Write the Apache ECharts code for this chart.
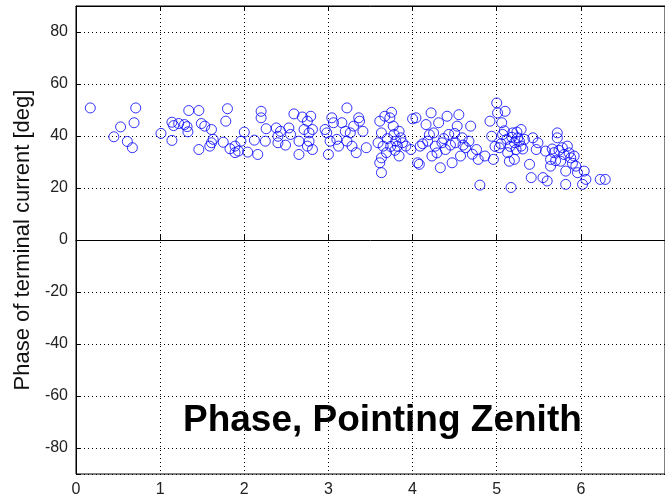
<!DOCTYPE html>
<html>
<head>
<meta charset="utf-8">
<script src="https://cdn.jsdelivr.net/npm/echarts@6/dist/echarts.min.js"></script>
<style>
  html, body { margin: 0; padding: 0; background: #fff; }
  #chart { width: 665px; height: 498px; }
</style>
</head>
<body>
<div id="chart"></div>
<script>
// pointing distance (x) and terminal-current phase in degrees (y)
const distance = [
  0.17, 0.45, 0.53, 0.61, 0.67, 0.69, 0.71, 1.01, 1.14, 1.14, 1.16, 1.22, 1.29, 1.34, 1.33, 1.32,
  1.46, 1.46, 1.49, 1.53, 1.61, 1.61, 1.59, 1.63, 1.75, 1.78, 1.80, 1.83, 1.89,
  2.00, 1.96, 1.89, 1.93, 2.04, 2.12, 2.16, 2.20, 2.20, 2.25, 2.26, 2.38, 2.40, 2.43, 2.40, 2.49,
  2.53, 2.55, 2.59, 2.65, 2.69, 2.65, 2.71, 2.75, 2.77, 2.79, 2.75, 2.81, 2.77, 2.81, 2.96, 2.98,
  3.00, 3.04, 3.06, 3.02, 3.10, 3.12, 3.16, 3.22, 3.20, 3.22, 3.26, 3.28, 3.30, 3.33, 3.37, 3.36,
  3.41, 3.45, 3.59, 3.61, 3.63, 3.65, 3.67, 3.63, 3.61, 3.63, 3.69, 3.73, 3.75, 3.77, 3.78, 3.84,
  3.80, 3.86, 3.82, 3.88, 3.92, 3.84, 3.98, 4.00, 4.06, 4.09,
  4.04, 4.08, 4.18, 4.22, 4.16, 4.25, 4.27, 4.23, 4.31, 4.33, 4.35, 4.39, 4.41, 4.43, 4.47, 4.51,
  4.53, 4.55, 4.57, 4.59, 4.63, 4.67, 4.69, 4.71, 4.76, 4.80, 4.78, 4.86, 4.92, 4.94, 4.96, 5.00,
  5.01, 5.03, 5.06, 5.07, 5.10, 5.12, 5.13, 5.17, 5.15, 5.19, 5.21, 5.25, 5.23, 5.29, 5.29, 5.33,
  5.21, 5.39, 5.43, 5.49, 5.47, 5.41, 5.55, 5.60, 5.58, 5.64, 5.64, 5.68, 5.72, 5.72, 5.76, 5.80,
  5.82, 5.82, 5.84, 5.88, 5.92, 5.94, 5.96, 6.04, 6.06, 6.02, 6.23, 6.29,
  4.37, 4.45, 4.29, 5.16, 5.24, 5.27, 5.31, 5.18, 5.74, 5.78, 5.70, 5.86, 5.90, 5.66, 3.70, 3.74,
  3.79, 4.20, 4.12, 4.50, 4.60, 5.05, 5.09, 4.98
];
const phaseDeg = [
  50.8, 39.7, 43.5, 37.9, 35.5, 45.1, 50.8, 41.0, 38.3, 45.3, 44.0, 44.8, 44.4, 49.8, 41.6, 43.6,
  49.8, 34.8, 44.8, 43.8, 42.5, 37.4, 36.1, 38.7, 37.6, 45.7, 50.5, 35.1, 33.6,
  41.5, 38.0, 36.1, 34.2, 33.8, 38.4, 32.9, 49.5, 47.0, 38.0, 42.8, 43.1, 39.9, 41.8, 37.4, 36.5,
  43.1, 40.6, 48.5, 32.9, 47.3, 38.0, 42.5, 45.7, 41.2, 47.6, 36.1, 34.8, 38.0, 42.5, 42.5, 41.2,
  32.9, 47.0, 45.1, 38.0, 38.7, 36.1, 45.1, 50.8, 41.8, 38.0, 41.2, 36.1, 43.8, 33.6, 45.7, 47.0,
  41.8, 35.5, 37.4, 45.7, 41.2, 36.1, 47.6, 31.6, 29.7, 25.9, 33.6, 47.0, 49.1, 43.8, 40.6, 41.8,
  38.0, 39.3, 36.1, 37.4, 36.1, 32.3, 34.8, 46.6, 29.7, 36.1,
  47.0, 29.1, 38.0, 48.9, 44.4, 41.2, 36.1, 32.3, 45.1, 27.8, 37.4, 34.8, 47.6, 40.6, 29.7, 37.4,
  43.8, 48.2, 32.3, 39.3, 35.5, 38.0, 43.8, 33.0, 34.8, 21.1, 31.0, 32.3, 45.7, 39.9, 31.0, 52.7,
  48.9, 35.5, 45.1, 40.6, 49.5, 38.7, 33.6, 20.2, 30.3, 41.2, 37.4, 39.3, 34.8, 42.5, 36.1, 38.7,
  31.0, 29.1, 39.3, 37.4, 34.8, 24.0, 24.0, 22.7, 34.2, 31.0, 28.4, 33.6, 41.2, 39.3, 30.3, 32.9,
  26.5, 21.4, 36.1, 31.6, 32.3, 28.4, 25.9, 26.5, 23.3, 21.4, 23.3, 23.3,
  39.0, 36.5, 33.5, 36.0, 41.5, 38.0, 35.0, 39.5, 34.5, 35.5, 30.5, 33.5, 29.5, 35.0, 39.0, 36.0,
  34.5, 40.5, 37.0, 41.0, 36.5, 37.0, 42.0, 36.0
];
const xTicks = [0, 1, 2, 3, 4, 5, 6, 7];
const yRange = [-90, 90];
const titleText = 'Phase, Pointing Zenith';
const yName = 'Phase of terminal current [deg]';

const points = distance.map((d, i) => [d, phaseDeg[i]]);

const chart = echarts.init(document.getElementById('chart'));

const dotted = { color: '#000', width: 1, type: [1, 3] };
const tickLabel = { color: '#222', fontSize: 16, fontFamily: 'Liberation Sans, Arial, sans-serif' };

chart.setOption({
  animation: false,
  title: {
    text: titleText,
    left: 183,
    top: 402,
    padding: 0,
    textStyle: { fontSize: 37, fontWeight: 'bold', color: '#000', fontFamily: 'Liberation Sans, Arial, sans-serif' }
  },
  grid: {
    left: 76, top: 6, right: -7, bottom: 22,
    show: true, borderColor: '#000', borderWidth: 1, backgroundColor: '#fff'
  },
  xAxis: [
    {
      type: 'value',
      min: xTicks[0],
      max: xTicks[xTicks.length - 1],
      interval: 1,
      axisLine: { show: true, lineStyle: { color: '#000' } },
      axisTick: { show: true, inside: true, length: 5, lineStyle: { color: '#000' } },
      axisLabel: Object.assign({ margin: 8, showMaxLabel: false }, tickLabel),
      splitLine: { show: true, lineStyle: dotted }
    },
    {
      type: 'value',
      position: 'top',
      min: xTicks[0],
      max: xTicks[xTicks.length - 1],
      interval: 1,
      axisLine: { show: true, lineStyle: { color: '#000' } },
      axisTick: { show: true, inside: true, length: 5, lineStyle: { color: '#000' } },
      axisLabel: { show: false },
      splitLine: { show: false }
    }
  ],
  yAxis: {
    type: 'value',
    min: yRange[0],
    max: yRange[1],
    splitNumber: 9,
    minInterval: 20,
    maxInterval: 20,
    name: yName,
    nameLocation: 'middle',
    nameGap: 40,
    nameTextStyle: { fontSize: 22, color: '#111', fontFamily: 'Liberation Sans, Arial, sans-serif' },
    axisLine: { show: true, lineStyle: { color: '#000' } },
    axisTick: { show: true, inside: true, length: 5, lineStyle: { color: '#000' } },
    axisLabel: Object.assign({
      margin: 8,
      formatter: v => (Math.abs(v) === 90 ? '' : String(v))
    }, tickLabel),
    splitLine: { show: true, lineStyle: dotted }
  },
  series: [{
    type: 'scatter',
    data: points,
    symbol: 'circle',
    symbolSize: 10,
    itemStyle: { color: 'rgba(0,0,0,0)', borderColor: '#0000ff', borderWidth: 1 },
    emphasis: { disabled: true }
  }]
});
</script>
</body>
</html>
